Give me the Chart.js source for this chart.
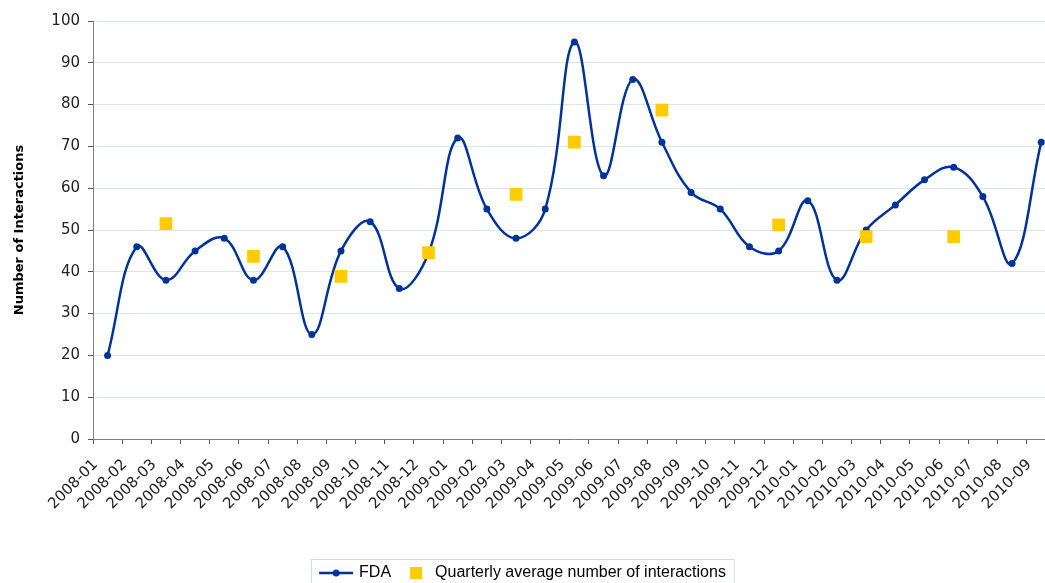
<!DOCTYPE html>
<html>
<head>
<meta charset="utf-8">
<script src="https://cdn.jsdelivr.net/npm/chart.js@4/dist/chart.umd.min.js"></script>
<style>
  html, body { margin: 0; padding: 0; background: #fff; overflow: hidden; }
  #chart { display: block; }
</style>
</head>
<body>
<canvas id="chart" width="1066" height="583"></canvas>
<script>
const months = [
    '2008-01', '2008-02', '2008-03', '2008-04', '2008-05', '2008-06', '2008-07', '2008-08', '2008-09',
    '2008-10', '2008-11', '2008-12', '2009-01', '2009-02', '2009-03', '2009-04', '2009-05', '2009-06',
    '2009-07', '2009-08', '2009-09', '2009-10', '2009-11', '2009-12', '2010-01', '2010-02', '2010-03',
    '2010-04', '2010-05', '2010-06', '2010-07', '2010-08', '2010-09'
];
const fdaValues = [
    20, 46, 38, 45, 48, 38, 46, 25, 45,
    52, 36, 44.5, 72, 55, 48, 55, 95, 63,
    86, 71, 59, 55, 46, 45, 57, 38, 50,
    56, 62, 65, 58, 42, 71
];
const quarterlyAvg = [
    null, null, 51.5, null, null, 43.7, null, null, 38.9,
    null, null, 44.6, null, null, 58.5, null, 71, null,
    null, 78.7, null, null, null, 51.2, null, null, 48.4,
    null, null, 48.4, null, null, null
];
const yTicks = { min: 0, max: 100, step: 10 };

const blue = '#003399';
const gold = '#ffcc00';

// legend markers (drawn centred at item x + 16)
function fdaMarker() {
    const c = document.createElement('canvas');
    c.width = 40; c.height = 10;
    const g = c.getContext('2d');
    g.strokeStyle = blue; g.lineWidth = 2.5;
    g.beginPath(); g.moveTo(4, 5); g.lineTo(38, 5); g.stroke();
    g.fillStyle = blue;
    g.beginPath(); g.arc(21, 5, 3.5, 0, Math.PI * 2); g.fill();
    return c;
}
function squareMarker() {
    const c = document.createElement('canvas');
    c.width = 40; c.height = 12;
    const g = c.getContext('2d');
    g.fillStyle = gold;
    g.fillRect(19, 0, 12, 12);
    return c;
}

const legendBorder = {
    id: 'legendBorder',
    afterDraw(chart) {
        const boxes = chart.legend.legendHitBoxes;
        if (!boxes || !boxes.length) return;
        const left = Math.min(...boxes.map(b => b.left)) - 8;
        const right = Math.max(...boxes.map(b => b.left + b.width)) + 8;
        const mid = boxes[0].top + boxes[0].height / 2;
        const ctx = chart.ctx;
        ctx.save();
        ctx.strokeStyle = '#d4dbe6';
        ctx.lineWidth = 1;
        ctx.strokeRect(Math.round(left) + 0.5, Math.round(mid - 14) + 0.5, right - left, 40);
        ctx.restore();
    }
};

new Chart(document.getElementById('chart'), {
    type: 'line',
    data: {
        labels: months,
        datasets: [
            {
                label: 'FDA',
                data: fdaValues,
                borderColor: blue,
                backgroundColor: blue,
                borderWidth: 2.5,
                pointRadius: 3.5,
                pointBackgroundColor: blue,
                pointBorderWidth: 0,
                tension: 0.4,
                order: 1
            },
            {
                label: 'Quarterly average number of interactions',
                data: quarterlyAvg,
                showLine: false,
                pointStyle: 'rect',
                // radius 0 on empty months so the edge points don't add layout padding
                pointRadius: ctx => ctx.raw == null ? 0 : 9,
                pointBackgroundColor: gold,
                pointBorderWidth: 0,
                backgroundColor: gold,
                borderColor: gold,
                order: 0
            }
        ]
    },
    options: {
        responsive: false,
        animation: false,
        layout: { padding: { top: 21, left: -30, right: -9, bottom: -8 } },
        plugins: {
            tooltip: { enabled: false },
            legend: {
                position: 'bottom',
                labels: {
                    usePointStyle: true,
                    pointStyleWidth: 32,
                    boxHeight: 12,
                    padding: 4,
                    color: '#000',
                    font: { family: 'Liberation Sans', size: 16 },
                    generateLabels: () => [
                        { text: 'FDA', pointStyle: fdaMarker(), fillStyle: blue, strokeStyle: blue, lineWidth: 0, datasetIndex: 0 },
                        { text: 'Quarterly average number of interactions', pointStyle: squareMarker(), fillStyle: gold, strokeStyle: gold, lineWidth: 0, datasetIndex: 1 }
                    ]
                }
            }
        },
        scales: {
            x: {
                offset: true,
                grid: { offset: true, drawOnChartArea: false, tickLength: 5, color: '#555' },
                border: { color: '#808080' },
                ticks: {
                    minRotation: 45,
                    maxRotation: 45,
                    autoSkip: false,
                    color: '#222',
                    padding: 12,
                    labelOffset: -12,
                    font: { family: 'DejaVu Sans', size: 15 }
                },
                afterFit(scale) { scale.height = 122; }
            },
            y: {
                min: yTicks.min,
                max: yTicks.max,
                ticks: {
                    stepSize: yTicks.step,
                    color: '#222',
                    padding: 8,
                    font: { family: 'DejaVu Sans', size: 15 }
                },
                grid: { color: '#dde4f0', tickColor: '#555', tickLength: 5 },
                border: { color: '#808080' },
                title: {
                    display: true,
                    text: 'Number of Interactions',
                    color: '#000',
                    font: { family: 'DejaVu Sans', size: 13, weight: 'bold' },
                    padding: { top: 42, bottom: 0 }
                },
                afterFit(scale) { scale.width = 123; }
            }
        }
    },
    plugins: [legendBorder]
});
</script>
</body>
</html>
